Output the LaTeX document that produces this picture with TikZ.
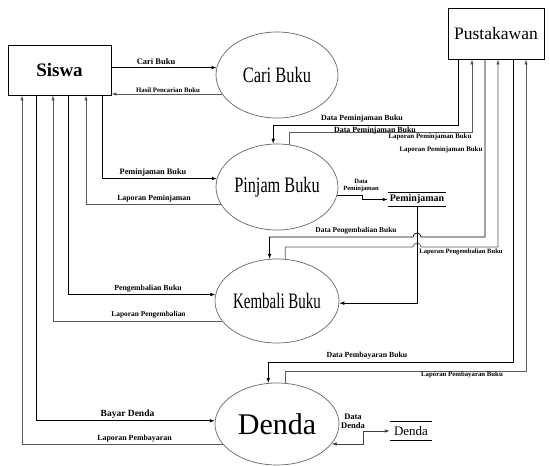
\documentclass[tikz,border=0pt]{standalone}
\usepackage{fontspec}
\setmainfont{Liberation Serif}
\usepackage{graphicx}
\usetikzlibrary{shapes.geometric,arrows.meta}

\tikzset{
    entity/.style={draw, line width=0.8pt, rectangle, inner sep=0pt},
    proc/.style={draw=black!60, line width=0.7pt, ellipse, inner sep=0pt},
    flow/.style={->, >={Latex[length=5pt,width=3.5pt]}, line width=0.7pt},
    back/.style={flow, draw=black!65},
    dflow/.style={<->, >={Latex[length=5pt,width=3.5pt]}, line width=0.7pt, draw=black!75},
    lbl/.style={font=\bfseries\fontsize{#1}{#1}\selectfont, inner sep=0pt},
    lbl/.default=7
}
\newcommand{\proclabel}[3]{{\fontsize{#1}{#1}\selectfont\scalebox{#2}[1]{#3}}}

\begin{document}
\begin{tikzpicture}[x=1pt, y=-1pt]
    \useasboundingbox (0,0) rectangle (550,466);

    % Entities
    \node[entity, minimum width=103, minimum height=50, font=\bfseries\fontsize{19}{19}\selectfont] (siswa) at (59.5,70) {Siswa};
    \node[entity, minimum width=96, minimum height=51, font=\fontsize{17.5}{17.5}\selectfont] (pusta) at (496,33.5) {Pustakawan};

    % Processes
    \node[proc, minimum width=122, minimum height=86] (cari) at (277,75) {\proclabel{22}{0.75}{Cari Buku}};
    \node[proc, minimum width=122, minimum height=86] (pinjam) at (277,187) {\proclabel{22}{0.74}{Pinjam Buku}};
    \node[proc, minimum width=122, minimum height=84] (kembali) at (277,301) {\proclabel{22}{0.68}{Kembali Buku}};
    \node[proc, minimum width=124, minimum height=82] (denda) at (277,424) {\proclabel{30}{1}{Denda}};

    % Data stores
    \node[font=\bfseries\fontsize{10}{10}\selectfont, minimum width=58, minimum height=13, inner sep=0pt] (dsPinjam) at (417,199.5) {Peminjaman};
    \draw[line width=0.7pt] (dsPinjam.north west) -- (dsPinjam.north east) (dsPinjam.south west) -- (dsPinjam.south east);
    \node[font=\fontsize{13}{13}\selectfont, minimum width=42, minimum height=18, inner sep=0pt] (dsDenda) at (411,431) {Denda};
    \draw[line width=0.7pt] (dsDenda.north west) -- (dsDenda.north east) (dsDenda.south west) -- (dsDenda.south east);

    % Siswa flows
    \draw[flow] (siswa.east |- cari.173) -- (cari.173);
    \draw[back] (cari.199) -- (siswa.east |- cari.199);
    \draw[flow] (siswa.south -| 102,0) |- (pinjam.172);
    \draw[back] (pinjam.197) -| (siswa.south -| 86,0);
    \draw[flow] (siswa.south -| 68,0) |- (kembali.174);
    \draw[back] (kembali.200) -| (siswa.south -| 53,0);
    \draw[flow] (siswa.south -| 36,0) |- (denda.177);
    \draw[back] (denda.201) -| (siswa.south -| 22,0);

    % Pustakawan flows
    \draw[flow] (pusta.south -| 458,0) -- ++(0,66) -| (pinjam.95);
    \draw[back] (pinjam.74) -- ++(0,-12) -| (pusta.south -| 472,0);
    \draw[flow] (pusta.south -| 485,0) |- (421,237) arc[start angle=0, end angle=-180, radius=4] -| (kembali.100);
    \draw[back] (kembali.79) |- (413,247) arc[start angle=180, end angle=360, radius=4] -| (pusta.south -| 498,0);
    \draw[flow] (pusta.south -| 513,0) -- ++(0,303) -| (denda.102);
    \draw[back] (denda.79) -- ++(0,-12) -| (pusta.south -| 526,0);

    % Store flows
    \draw[flow] (pinjam.352) -- ++(25,0) |- (dsPinjam.west);
    \draw[flow] (dsPinjam.south) |- (kembali.358);
    \draw[dflow] (denda.340) -- ++(32,0) |- (dsDenda.west);

    % Labels
    \node[lbl=8.5] (tCari) at (156,62) {Cari Buku};
    \node[lbl=6.8] (tHasil) at (168,90) {Hasil Pencarian Buku};
    \node[lbl=8.3] (tPinj) at (153,173) {Peminjaman Buku};
    \node[lbl=7.8] (tLapPinj) at (154,199) {Laporan Peminjaman};
    \node[lbl=7.8] (tKemb) at (148,289) {Pengembalian Buku};
    \node[lbl=7.4] (tLapKemb) at (148.5,315) {Laporan Pengembalian};
    \node[lbl=9.5] (tBayar) at (127.5,414) {Bayar Denda};
    \node[lbl=7.9] (tLapBayar) at (134.5,439) {Laporan Pembayaran};
    \node[lbl=7.9] (tDP1) at (362,119) {Data Peminjaman Buku};
    \node[lbl=7.9] (tDP2) at (375,131) {Data Peminjaman Buku};
    \node[lbl=6.9] (tLP1) at (430,137) {Laporan Peminjaman Buku};
    \node[lbl=6.9] (tLP2) at (441,150) {Laporan Peminjaman Buku};
    \node[lbl=7.4] (tDK) at (356,231) {Data Pengembalian Buku};
    \node[lbl=6.6] (tLK) at (461,252) {Laporan Pengembalian Buku};
    \node[lbl=7.8] (tDB) at (367,356) {Data Pembayaran Buku};
    \node[lbl=6.8] (tLB) at (462,375) {Laporan Pembayaran Buku};
    \node[lbl=6.5, align=center] (tDataPinj) at (361,185.5) {Data\\Peminjaman};
    \node[lbl=8.5, align=center] (tDataDenda) at (353,421.5) {Data\\Denda};
\end{tikzpicture}
\end{document}
